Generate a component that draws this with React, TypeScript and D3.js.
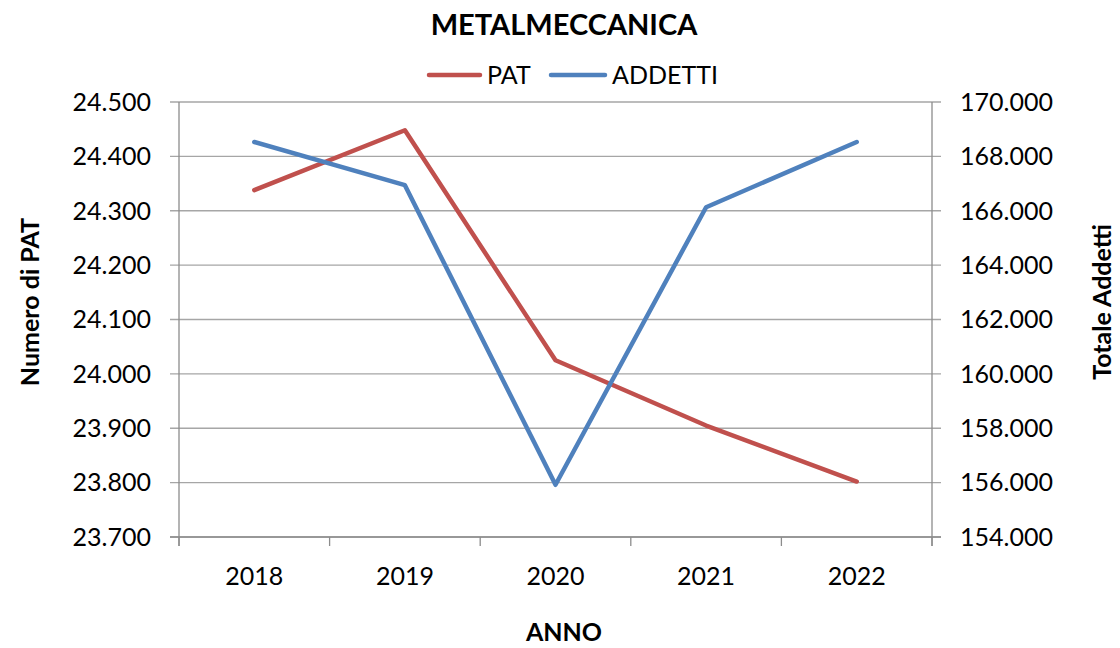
import React from "react";
import * as d3 from "d3";

const years = ["2018", "2019", "2020", "2021", "2022"];
const patValues = [24338, 24448, 24025, 23905, 23802];
const addettiValues = [168530, 166940, 155920, 166130, 168530];
const leftTicks = [23700, 23800, 23900, 24000, 24100, 24200, 24300, 24400, 24500];
const rightTicks = [154000, 156000, 158000, 160000, 162000, 164000, 166000, 168000, 170000];

const W = 1120;
const H = 648;
const plot = { left: 179, right: 932, top: 102, bottom: 537 };
const FONT = "Lato, 'Open Sans', sans-serif";
const RED = "#C0504D";
const BLUE = "#4F81BD";

const it = d3.formatLocale({ decimal: ",", thousands: ".", grouping: [3], currency: ["€", ""] });
const fmt = it.format(",.0f");

export default function App() {
  const x = d3.scaleBand<string>().domain(years).range([plot.left, plot.right]).padding(0);
  const cx = (y: string) => (x(y) as number) + x.bandwidth() / 2;
  const yL = d3.scaleLinear().domain([23700, 24500]).range([plot.bottom, plot.top]);
  const yR = d3.scaleLinear().domain([154000, 170000]).range([plot.bottom, plot.top]);

  const lineL = d3.line<number>().x((_, i) => cx(years[i])).y((d) => yL(d));
  const lineR = d3.line<number>().x((_, i) => cx(years[i])).y((d) => yR(d));

  const bounds = [...years.map((y) => x(y) as number), plot.right];

  return (
    <svg width={W} height={H} style={{ position: "absolute", left: 0, top: 0, background: "#fff" }} fontFamily={FONT}>
      <rect width={W} height={H} fill="#fff" />
      {/* title */}
      <text x={564} y={35} textAnchor="middle" fontSize={29} fontWeight="bold" fill="#000">METALMECCANICA</text>
      {/* legend */}
      <line x1={429} x2={480} y1={75} y2={75} stroke={RED} strokeWidth={4.5} strokeLinecap="round" />
      <text x={487} y={84} fontSize={25} fill="#000">PAT</text>
      <line x1={551} x2={605} y1={75} y2={75} stroke={BLUE} strokeWidth={4.5} strokeLinecap="round" />
      <text x={612} y={84} fontSize={25} fill="#000">ADDETTI</text>

      {/* gridlines */}
      {leftTicks.map((t) => (
        <line key={"g" + t} x1={plot.left - 9} x2={plot.right + 9} y1={yL(t)} y2={yL(t)} stroke="#a6a6a6" strokeWidth={1.3} />
      ))}
      {/* axes */}
      <line x1={plot.left} x2={plot.left} y1={plot.top} y2={plot.bottom + 9} stroke="#8c8c8c" strokeWidth={1.3} />
      <line x1={plot.right} x2={plot.right} y1={plot.top} y2={plot.bottom + 9} stroke="#8c8c8c" strokeWidth={1.3} />
      <line x1={plot.left - 9} x2={plot.right + 9} y1={plot.bottom} y2={plot.bottom} stroke="#8c8c8c" strokeWidth={1.3} />
      {bounds.map((b, i) => (
        <line key={"xt" + i} x1={b} x2={b} y1={plot.bottom} y2={plot.bottom + 9} stroke="#8c8c8c" strokeWidth={1.3} />
      ))}

      {/* left tick labels */}
      {leftTicks.map((t) => (
        <text key={"l" + t} x={151} y={yL(t)} dy="0.35em" textAnchor="end" fontSize={25} fill="#000">{fmt(t)}</text>
      ))}
      {/* right tick labels */}
      {rightTicks.map((t) => (
        <text key={"r" + t} x={960} y={yR(t)} dy="0.35em" textAnchor="start" fontSize={25} fill="#000">{fmt(t)}</text>
      ))}
      {/* x labels */}
      {years.map((y) => (
        <text key={"x" + y} x={cx(y)} y={576} dy="0.35em" textAnchor="middle" fontSize={25} fill="#000">{y}</text>
      ))}

      {/* axis titles */}
      <text x={564} y={632} dy="0.35em" textAnchor="middle" fontSize={25} fontWeight="bold" fill="#000">ANNO</text>
      <text transform={`translate(30,302) rotate(-90)`} dy="0.35em" textAnchor="middle" fontSize={25} fontWeight="bold" fill="#000">Numero di PAT</text>
      <text transform={`translate(1102,302) rotate(-90)`} dy="0.35em" textAnchor="middle" fontSize={25} fontWeight="bold" fill="#000">Totale Addetti</text>

      {/* series */}
      <path d={lineL(patValues) as string} fill="none" stroke={RED} strokeWidth={4.5} strokeLinejoin="round" strokeLinecap="round" />
      <path d={lineR(addettiValues) as string} fill="none" stroke={BLUE} strokeWidth={4.5} strokeLinejoin="round" strokeLinecap="round" />
    </svg>
  );
}
